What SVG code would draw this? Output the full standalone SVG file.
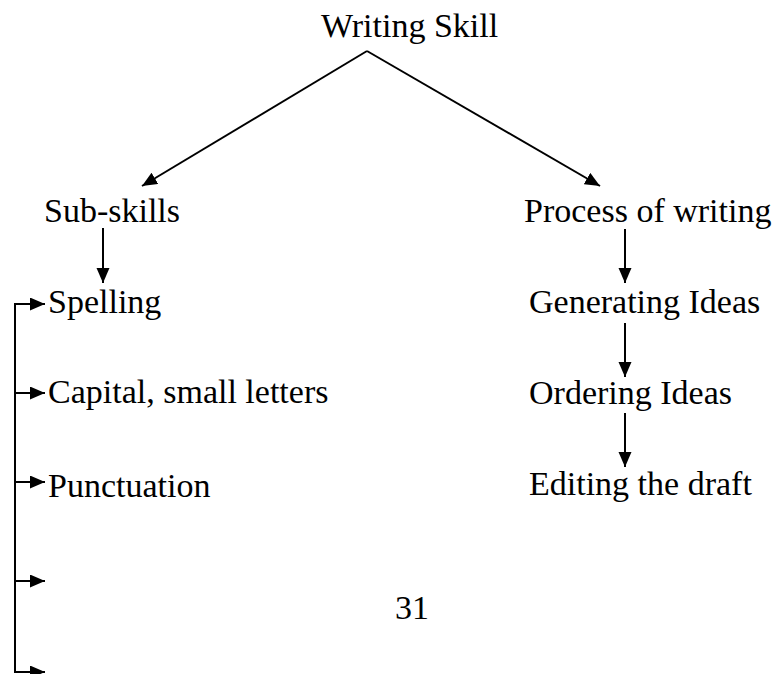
<svg xmlns="http://www.w3.org/2000/svg" width="779" height="674" viewBox="0 0 779 674">
<style>
text { font-family: "Liberation Serif", "Times New Roman", serif; font-size: 34px; fill: #000; }
.c { stroke: #000; stroke-width: 2; fill: none; }
.a { marker-end: url(#ah); }
</style>
<defs>
<marker id="ah" markerUnits="userSpaceOnUse" markerWidth="16" markerHeight="14" refX="15" refY="6.5" orient="auto">
<path d="M0,0 L15,6.5 L0,13 z" fill="#000"/>
</marker>
</defs>
<rect x="0" y="0" width="779" height="674" fill="#fff"/>
<g id="connectors">
<polyline class="c a" points="367,51 142,186"/>
<polyline class="c a" points="367,51 600,186"/>
<line class="c a" x1="103" y1="228" x2="103" y2="283"/>
<line class="c" x1="15" y1="303" x2="15" y2="673"/>
<line class="c a" x1="14" y1="304" x2="45" y2="304"/>
<line class="c a" x1="15" y1="393" x2="45" y2="393"/>
<line class="c a" x1="15" y1="482" x2="45" y2="482"/>
<line class="c a" x1="15" y1="581" x2="45" y2="581"/>
<line class="c a" x1="14" y1="672" x2="45" y2="672"/>
<line class="c a" x1="625" y1="229" x2="625" y2="283"/>
<line class="c a" x1="625" y1="323" x2="625" y2="377"/>
<line class="c a" x1="625" y1="413" x2="625" y2="467"/>
</g>
<g id="writing-skill"><text x="321" y="37">Writing Skill</text></g>
<g id="sub-skills"><text x="44" y="222">Sub-skills</text></g>
<g id="process"><text x="524" y="222">Process of writing</text></g>
<g id="spelling"><text x="48" y="313">Spelling</text></g>
<g id="capital"><text x="48" y="403">Capital, small letters</text></g>
<g id="punctuation"><text x="48" y="497">Punctuation</text></g>
<g id="generating"><text x="529" y="313">Generating Ideas</text></g>
<g id="ordering"><text x="529" y="404">Ordering Ideas</text></g>
<g id="editing"><text x="529" y="495">Editing the draft</text></g>
<g id="page-number"><text x="395" y="619">31</text></g>
</svg>
